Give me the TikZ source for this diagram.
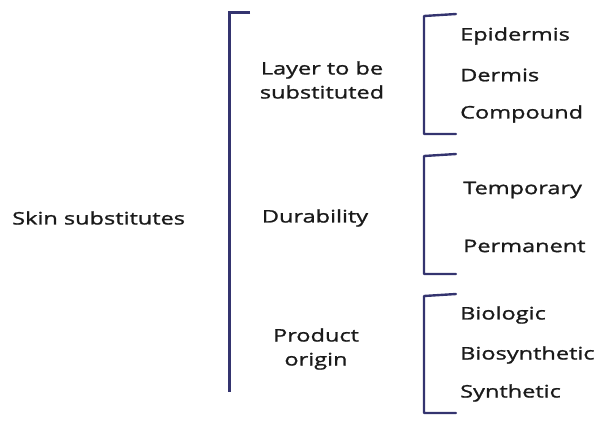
\documentclass[tikz,border=0pt]{standalone}
\usepackage{fontspec}
\setmainfont{Open Sans}[FakeStretch=1.36, FakeBold=1.2]
\definecolor{brk}{HTML}{34346F}
\definecolor{txt}{HTML}{1A1A1A}
\begin{document}
\begin{tikzpicture}[x=1pt,y=-1pt,
  lbl/.style={font=\fontsize{17.3}{24}\selectfont, text=txt, inner sep=0pt},
  leaf/.style={lbl, anchor=west},
  mid/.style={lbl, align=center},
  bigbr/.style={draw=brk, line width=3pt},
  smallbr/.style={draw=brk, line width=2.4pt, line cap=round, line join=round}]
\useasboundingbox (0,0) rectangle (600,421);
% root
\node[leaf] (root) at (12,218) {Skin substitutes};
% big bracket
\coordinate (bt) at (250,12);
\coordinate (bc) at (229,12);
\coordinate (bb) at (229,392);
\draw[bigbr] (bt) -- (bc) -- (bb);
% categories
\node[mid] (layer) at (322,80) {Layer to be\\substituted};
\node[mid] (dur) at (315,218) {Durability};
\node[mid] (orig) at (316,349) {Product\\origin};
% small brackets
\draw[smallbr] (456,14) -- (424,16) -- (424,134) -- (456,134);
\draw[smallbr] (456,154) -- (424,156) -- (424,274) -- (456,274);
\draw[smallbr] (456,294) -- (424,296) -- (424,413) -- (456,413);
% leaves
\node[leaf] (epi) at (460,36) {Epidermis};
\node[leaf] (der) at (460,75) {Dermis};
\node[leaf] (com) at (460,114) {Compound};
\node[leaf] (tem) at (463,190) {Temporary};
\node[leaf] (per) at (463,246) {Permanent};
\node[leaf] (bio) at (460,315) {Biologic};
\node[leaf] (bsy) at (460,355) {Biosynthetic};
\node[leaf] (syn) at (460,393) {Synthetic};
\end{tikzpicture}
\end{document}
